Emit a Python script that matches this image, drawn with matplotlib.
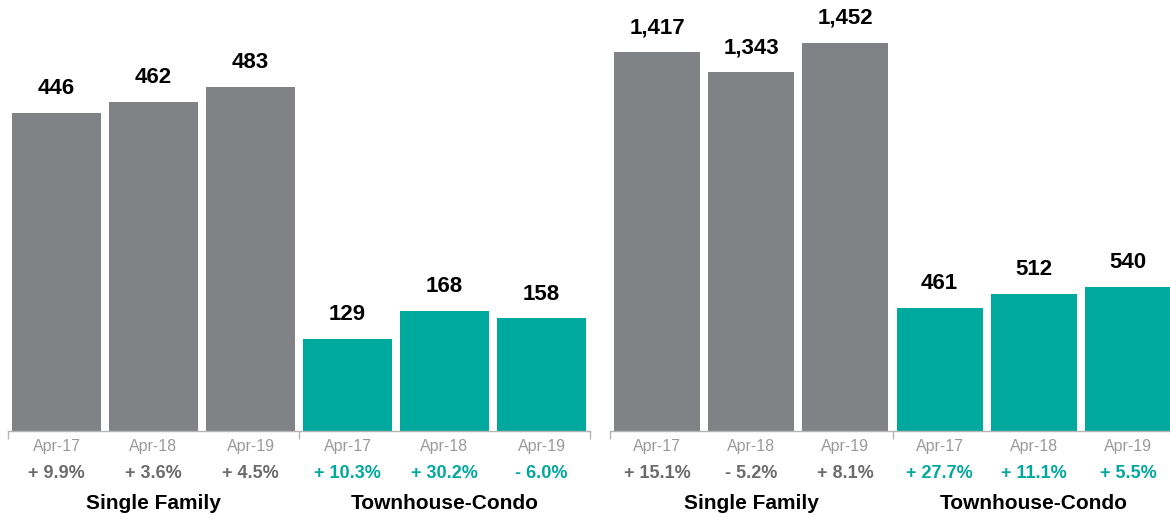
import matplotlib.pyplot as plt
from matplotlib.ticker import FixedLocator

plt.rcParams['font.family'] = ['Liberation Sans', 'DejaVu Sans']

# Closed sales (left) and new listings (right), April of each year
periods = ["Apr-17", "Apr-18", "Apr-19"]
groups = ["Single Family", "Townhouse-Condo"]

left_single = [446, 462, 483]
left_condo = [129, 168, 158]
left_single_chg = ["+ 9.9%", "+ 3.6%", "+ 4.5%"]
left_condo_chg = ["+ 10.3%", "+ 30.2%", "- 6.0%"]

right_single = [1417, 1343, 1452]
right_condo = [461, 512, 540]
right_single_chg = ["+ 15.1%", "- 5.2%", "+ 8.1%"]
right_condo_chg = ["+ 27.7%", "+ 11.1%", "+ 5.5%"]

GRAY = "#818285"
TEAL = "#00a99d"


def draw_panel(ax, single, condo, single_chg, condo_chg, ymax):
    values = single + condo
    colors = [GRAY] * len(single) + [TEAL] * len(condo)
    x = list(range(len(values)))
    bars = ax.bar(x, values, width=0.915, color=colors)

    for rect, v in zip(bars, values):
        ax.annotate(f"{v:,}", (rect.get_x() + rect.get_width() / 2, v),
                    xytext=(0, 10), textcoords="offset points",
                    ha="center", va="bottom", fontsize=16, fontweight="bold",
                    color="black")

    ax.set_xlim(-0.5, len(values) - 0.5)
    ax.set_ylim(0, ymax)

    for s in ("top", "right", "left"):
        ax.spines[s].set_visible(False)
    ax.spines["bottom"].set_color("#b5b5b5")
    ax.spines["bottom"].set_linewidth(1.0)
    ax.set_yticks([])

    ax.set_xticks(x)
    ax.set_xticklabels(periods * 2, fontsize=11.5, color="#9a9a9a")
    ax.tick_params(axis="x", which="major", length=0, pad=6)
    ax.xaxis.set_minor_locator(FixedLocator([-0.5, 2.5, 5.5]))
    ax.tick_params(axis="x", which="minor", length=6, color="#b5b5b5", width=1.0)

    trans = ax.get_xaxis_transform()
    chg = single_chg + condo_chg
    for xi, label, c in zip(x, chg, colors):
        ax.text(xi, -0.098, label, transform=trans, ha="center", va="center",
                fontsize=13, fontweight="bold",
                color="#6b6b6b" if c == GRAY else TEAL)
    for gi, name in enumerate(groups):
        ax.text(1 + 3 * gi, -0.168, name, transform=trans, ha="center",
                va="center", fontsize=15, fontweight="bold", color="black")


fig = plt.figure(figsize=(11.7, 5.18), dpi=100)
bottom = 1 - 431 / 518
ax1 = fig.add_axes([8 / 1170, bottom, 582 / 1170, 1 - bottom])
ax2 = fig.add_axes([610 / 1170, bottom, 565 / 1170, 1 - bottom])

draw_panel(ax1, left_single, left_condo, left_single_chg, left_condo_chg, 605)
draw_panel(ax2, right_single, right_condo, right_single_chg, right_condo_chg, 1612)

fig.savefig("out.png", dpi=100)
